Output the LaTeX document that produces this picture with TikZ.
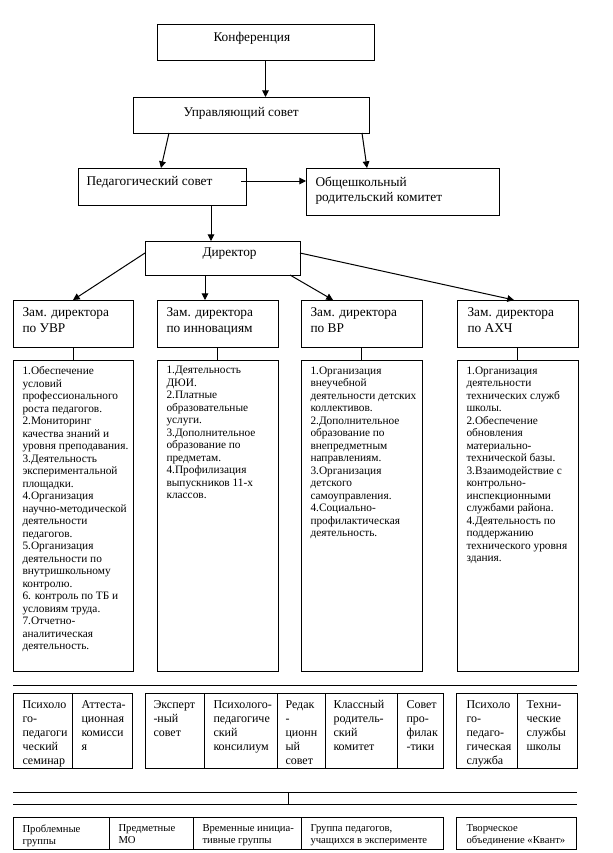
\documentclass[tikz,border=0pt]{standalone}
\usepackage{fontspec}
\setmainfont{Liberation Serif}
\usetikzlibrary{arrows.meta,calc}
\begin{document}
\begin{tikzpicture}[x=0.75pt,y=-0.75pt,line width=0.75pt,
  rect/.style n args={2}{draw, inner sep=0pt, outer sep=0pt, anchor=north west,
     minimum width=#1*0.75pt, minimum height=#2*0.75pt},
  lbl/.style={inner sep=0pt, anchor=west, font=\fontsize{10}{12}\selectfont},
  hdr/.style={inner sep=0pt, anchor=north west, align=left, font=\fontsize{10}{12}\selectfont},
  bt/.style={inner sep=0pt, anchor=north west, align=left, font=\fontsize{8.5}{9.375}\selectfont},
  gt/.style={inner sep=0pt, anchor=north west, align=left, font=\fontsize{9}{10.5}\selectfont},
  st/.style={inner sep=0pt, anchor=north west, align=left, font=\fontsize{8}{9}\selectfont},
  arr/.style={-{Triangle[length=5pt,width=5pt]}}]
\fill[white] (0,0) rectangle (613,853);
\useasboundingbox (0,0) rectangle (613,853);

% top level
\node[rect={217}{36}] (conf) at (157,24) {};
\node[lbl] (confT) at (213,38) {Конференция};
\node[rect={236}{36}] (upr) at (133,97) {};
\node[lbl] (uprT) at (183,113) {Управляющий совет};
\node[rect={168}{37}] (ped) at (78,168) {};
\node[lbl] (pedT) at (86,182) {Педагогический совет};
\node[rect={193}{47}] (obsh) at (306,168) {};
\node[hdr, font=\fontsize{10}{11.25}\selectfont] (obshT) at (315,176) {Общешкольный\\родительский комитет};
\node[rect={155}{34}] (dir) at (145,241) {};
\node[lbl] (dirT) at (202,254) {Директор};

\draw[arr] (conf.south) -- (conf.south |- upr.north);
\draw[arr] ($(upr.south west)+(36,0)$) -- ($(ped.north west)+(83,0)$);
\draw[arr] ($(upr.south west)+(229,0)$) -- ($(obsh.north west)+(61,0)$);
\draw[arr] ($(ped.north east)+(-5,13)$) -- ($(obsh.north west)+(0,13)$);
\draw[arr] ($(ped.south west)+(133,0)$) -- ($(dir.north west)+(66,0)$);

% deputies
\node[rect={120}{47}] (z1) at (13,300) {};
\node[rect={121}{47}] (z2) at (157,300) {};
\node[rect={121}{47}] (z3) at (301,300) {};
\node[rect={121}{47}] (z4) at (457,300) {};
\node[hdr] (z1T) at (22,307) {Зам. директора\\по УВР};
\node[hdr] (z2T) at (166,307) {Зам. директора\\по инновациям};
\node[hdr] (z3T) at (310,307) {Зам. директора\\по ВР};
\node[hdr] (z4T) at (467,307) {Зам. директора\\по АХЧ};

\draw[arr] ($(dir.north west)+(0,12)$) -- (z1.north);
\draw[arr] ($(dir.south west)+(60,0)$) -- ($(z2.north west)+(48,0)$);
\draw[arr] ($(dir.south west)+(145,0)$) -- ($(z3.north west)+(32,0)$);
\draw[arr] ($(dir.north east)+(0,12)$) -- ($(z4.north west)+(57,0)$);

% duties
\node[rect={120}{311}] (t1) at (13,360) {};
\node[rect={121}{311}] (t2) at (157,360) {};
\node[rect={121}{311}] (t3) at (301,360) {};
\node[rect={121}{311}] (t4) at (457,360) {};
\draw (z1.south) -- (t1.north);
\draw (z2.south) -- (t2.north);
\draw (z3.south) -- (t3.north);
\draw (z4.south) -- (t4.north);

\node[bt] (t1T) at (22,366) {1.Обеспечение\\условий\\профессионального\\роста педагогов.\\2.Мониторинг\\качества знаний и\\уровня преподавания.\\3.Деятельность\\экспериментальной\\площадки.\\4.Организация\\научно-методической\\деятельности\\педагогов.\\5.Организация\\деятельности по\\внутришкольному\\контролю.\\6. контроль по ТБ и\\условиям труда.\\7.Отчетно-\\аналитическая\\деятельность.};
\node[bt] (t2T) at (166,366) {1.Деятельность\\ДЮИ.\\2.Платные\\образовательные\\услуги.\\3.Дополнительное\\образование по\\предметам.\\4.Профилизация\\выпускников 11-х\\классов.};
\node[bt] (t3T) at (310,366) {1.Организация\\внеучебной\\деятельности детских\\коллективов.\\2.Дополнительное\\образование по\\внепредметным\\направлениям.\\3.Организация\\детского\\самоуправления.\\4.Социально-\\профилактическая\\деятельность.};
\node[bt] (t4T) at (466,366) {1.Организация\\деятельности\\технических служб\\школы.\\2.Обеспечение\\обновления\\материально-\\технической базы.\\3.Взаимодействие с\\контрольно-\\инспекционными\\службами района.\\4.Деятельность по\\поддержанию\\технического уровня\\здания.};

% first bus line
\coordinate (busAL) at (13,685);
\coordinate (busAR) at (577,685);
\draw (busAL) -- (busAR);

% groups
\node[rect={59}{75}] (g1a) at (13,693) {};
\node[rect={60}{75}] (g1b) at (72,693) {};
\node[rect={59}{75}] (g2a) at (145,693) {};
\node[rect={73}{75}] (g2b) at (204,693) {};
\node[rect={48}{75}] (g2c) at (277,693) {};
\node[rect={72}{75}] (g2d) at (325,693) {};
\node[rect={46}{75}] (g2e) at (397,693) {};
\node[rect={61}{75}] (g3a) at (456,693) {};
\node[rect={60}{75}] (g3b) at (517,693) {};
\node[gt] (g1aT) at (22,700) {Психоло\\го-\\педагоги\\ческий\\семинар};
\node[gt] (g1bT) at (81,700) {Аттеста-\\ционная\\комисси\\я};
\node[gt] (g2aT) at (153,700) {Эксперт\\-ный\\совет};
\node[gt] (g2bT) at (213,700) {Психолого-\\педагогиче\\ский\\консилиум};
\node[gt] (g2cT) at (285,700) {Редак\\-\\ционн\\ый\\совет};
\node[gt] (g2dT) at (333,700) {Классный\\родитель-\\ский\\комитет};
\node[gt] (g2eT) at (406,700) {Совет\\про-\\филак\\-тики};
\node[gt] (g3aT) at (466,700) {Психоло\\го-\\педаго-\\гическая\\служба};
\node[gt] (g3bT) at (526,700) {Техни-\\ческие\\службы\\школы};

% second bus lines
\coordinate (busBL) at (13,792);
\coordinate (busBR) at (577,792);
\coordinate (busCL) at (13,804);
\coordinate (busCR) at (577,804);
\coordinate (tickT) at (288,792);
\coordinate (tickB) at (288,804);
\draw (busBL) -- (busBR);
\draw (busCL) -- (busCR);
\draw (tickT) -- (tickB);

% bottom groups
\node[rect={96}{32}] (b1) at (13,817) {};
\node[rect={84}{32}] (b2) at (109,817) {};
\node[rect={108}{32}] (b3) at (193,817) {};
\node[rect={142}{32}] (b4) at (301,817) {};
\node[rect={120}{32}] (b5) at (456,817) {};
\node[st] (b1T) at (22,824) {Проблемные\\группы};
\node[st] (b2T) at (118,824) {Предметные\\МО};
\node[st] (b3T) at (202,824) {Временные инициа-\\тивные группы};
\node[st] (b4T) at (310,824) {Группа педагогов,\\учащихся в эксперименте};
\node[st] (b5T) at (466,824) {Творческое\\объединение «Квант»};
\end{tikzpicture}
\end{document}
